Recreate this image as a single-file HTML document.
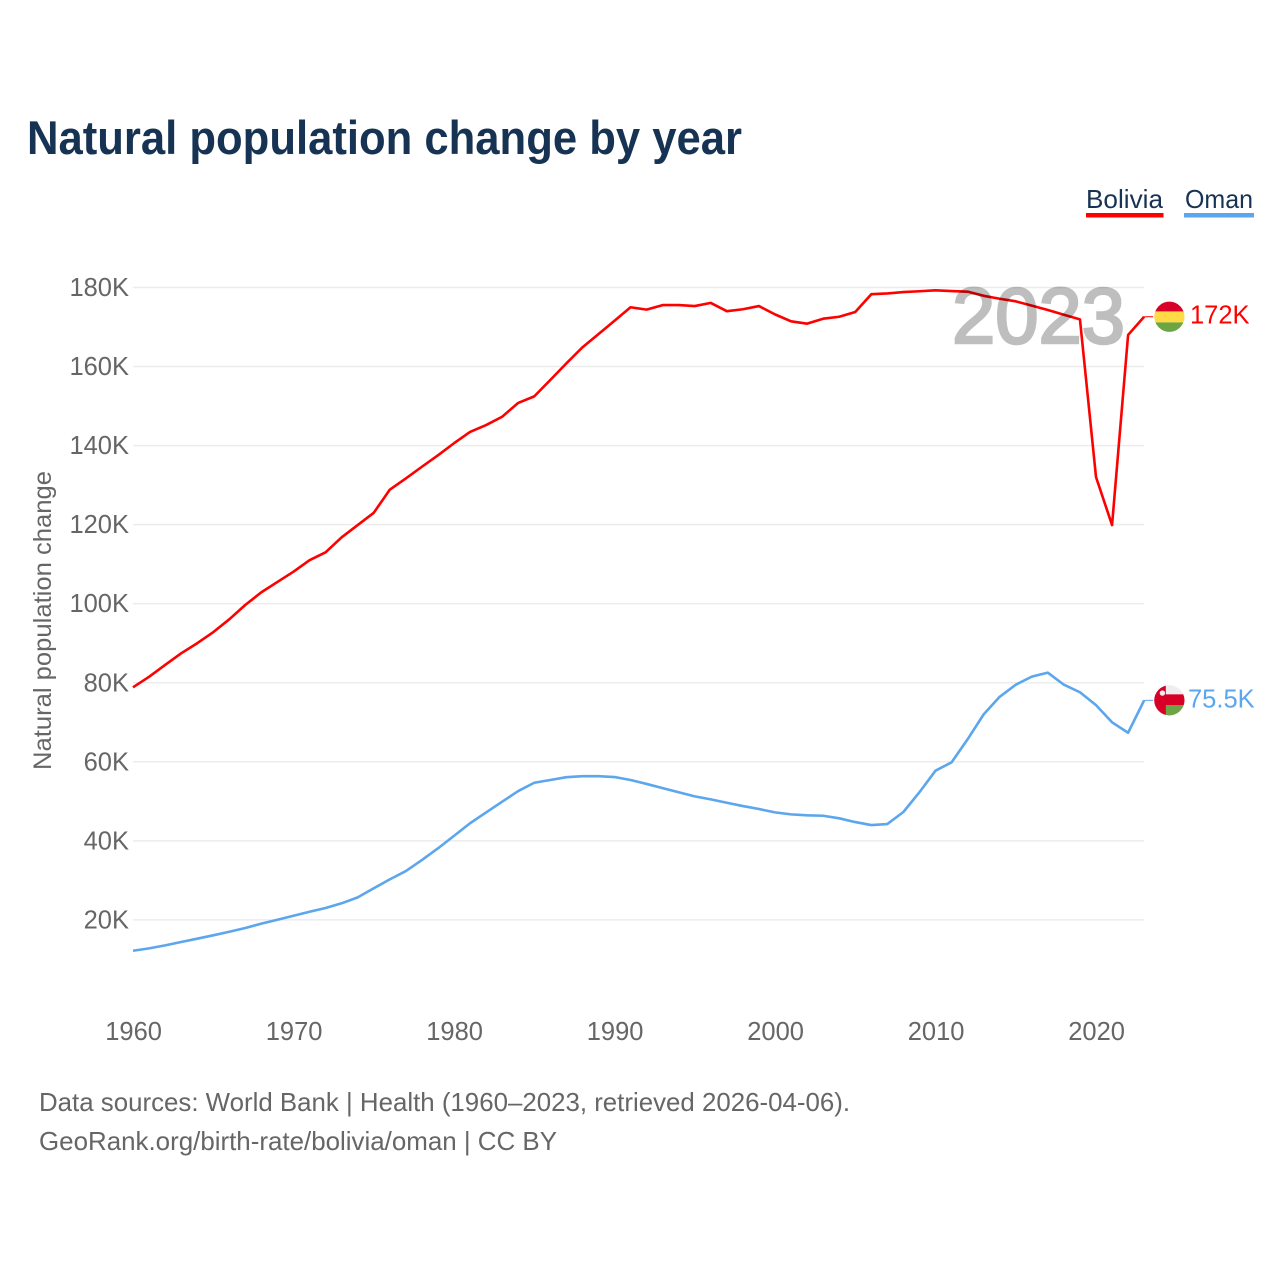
<!DOCTYPE html>
<html lang="en">
<head>
<meta charset="utf-8">
<title>Natural population change by year</title>
<style>
html,body{margin:0;padding:0;background:#fff;}
svg{display:block;font-family:"Liberation Sans",sans-serif;}
</style>
</head>
<body>
<svg id="chart" width="1280" height="1280" viewBox="0 0 1280 1280" xmlns="http://www.w3.org/2000/svg">
  <defs>
    <clipPath id="flag-clip"><circle cx="0" cy="0" r="15.1"></circle></clipPath>
  </defs>
  <rect x="0" y="0" width="1280" height="1280" fill="#ffffff"></rect>
  <text x="27" y="154" font-size="47" font-weight="700" fill="#173353" textLength="715" lengthAdjust="spacingAndGlyphs">Natural population change by year</text>

  <g>
    <g>
      <text x="1086" y="208" font-size="26" fill="#173353" textLength="77" lengthAdjust="spacingAndGlyphs">Bolivia</text>
      <rect x="1086" y="213" width="77.5" height="4.5" fill="#ff0000"></rect>
    </g>
    <g>
      <text x="1185" y="208" font-size="26" fill="#173353" textLength="68" lengthAdjust="spacingAndGlyphs">Oman</text>
      <rect x="1184" y="213" width="70" height="4.5" fill="#5ca6ee"></rect>
    </g>
  </g>

  <text transform="translate(51,770) rotate(-90)" x="0" y="0" font-size="25" fill="#666666" textLength="299" lengthAdjust="spacingAndGlyphs">Natural population change</text>

  <g id="grid"></g>
  <g id="y-ticks"></g>
  <g id="x-ticks"></g>
  <g id="series"></g>

  <text x="952" y="343" font-size="79" font-weight="400" fill="#000000" stroke="#000000" stroke-width="2.6" opacity="0.25" textLength="173" lengthAdjust="spacingAndGlyphs">2023</text>

  <g id="flag-bolivia" clip-path="url(#flag-clip)">
    <rect x="-16" y="-16" width="32" height="10.7" fill="#d80027"></rect>
    <rect x="-16" y="-5.3" width="32" height="11" fill="#ffda44"></rect>
    <rect x="-16" y="5.7" width="32" height="10.3" fill="#6da544"></rect>
  </g>
  <g id="flag-oman" clip-path="url(#flag-clip)">
    <rect x="-16" y="-16" width="32" height="10" fill="#eeeeee"></rect>
    <rect x="-16" y="-6" width="32" height="11" fill="#d80027"></rect>
    <rect x="-4" y="5" width="20" height="11" fill="#6da544"></rect>
    <rect x="-16" y="-16" width="12.4" height="32" fill="#d80027"></rect>
    <circle cx="-7" cy="-7.3" r="2.7" fill="#eeeeee"></circle>
  </g>
  <g id="end-labels"></g>

  <text x="39" y="1111" font-size="26" fill="#666666" textLength="811" lengthAdjust="spacingAndGlyphs">Data sources: World Bank | Health (1960–2023, retrieved 2026-04-06).</text>
  <text x="39" y="1150" font-size="26" fill="#666666" textLength="518" lengthAdjust="spacingAndGlyphs">GeoRank.org/birth-rate/bolivia/oman | CC BY</text>
</svg>
<script>
const firstYear = 1960;
const boliviaValues = [78.85,81.5,84.5,87.45,90.0,92.8,96.05,99.7,102.9,105.5,108.1,111.0,113.0,116.8,119.9,123.0,128.85,131.7,134.65,137.55,140.6,143.45,145.2,147.3,150.8,152.45,156.6,160.8,164.85,168.2,171.6,175.0,174.4,175.55,175.55,175.3,176.1,174.0,174.5,175.3,173.2,171.45,170.85,172.1,172.6,173.8,178.3,178.5,178.85,179.05,179.3,179.1,178.95,177.9,177.15,176.5,175.4,174.3,173.1,171.95,132.05,119.9,168.0,172.6];
const omanValues = [12.2,12.8,13.55,14.4,15.25,16.1,17.0,17.95,19.05,20.05,21.05,22.05,23.0,24.2,25.7,28.0,30.25,32.35,35.15,38.1,41.25,44.45,47.2,49.9,52.6,54.7,55.4,56.1,56.35,56.35,56.15,55.4,54.4,53.35,52.3,51.25,50.5,49.65,48.8,48.05,47.2,46.7,46.45,46.35,45.7,44.75,44.0,44.25,47.3,52.3,57.75,59.85,65.7,72.0,76.45,79.5,81.55,82.55,79.5,77.6,74.35,70.0,67.35,75.55];
const yTickValues = [20,40,60,80,100,120,140,160,180];
const yTickLabels = ["20K","40K","60K","80K","100K","120K","140K","160K","180K"];
const xTickYears = [1960,1970,1980,1990,2000,2010,2020];
const boliviaEndLabel = "172K";
const omanEndLabel = "75.5K";

const NS = "http://www.w3.org/2000/svg";
function xScale(year){ return 133 + (year - 1960) * 16.05; }
function yScale(v){ return 287.5 + (180 - v) * 3.9525; }
function make(tag, parentId){
  const el = document.createElementNS(NS, tag);
  document.getElementById(parentId).appendChild(el);
  return el;
}

yTickValues.forEach(function(v, i){
  const line = make("line", "grid");
  
  
  line.setAttribute("x1", xScale(1960));
  line.setAttribute("x2", 1144);
  line.setAttribute("y1", yScale(v));
  line.setAttribute("y2", yScale(v));
  line.setAttribute("stroke", "#ececec");
  line.setAttribute("stroke-width", "1.5");

  const label = make("text", "y-ticks");
  
  
  label.setAttribute("x", 129);
  label.setAttribute("y", yScale(v) + 8.5);
  label.setAttribute("text-anchor", "end");
  label.setAttribute("font-size", "25.5");
  label.setAttribute("fill", "#666666");
  label.textContent = yTickLabels[i];
});

xTickYears.forEach(function(year){
  const label = make("text", "x-ticks");
  
  
  label.setAttribute("x", xScale(year) + 0.6);
  label.setAttribute("y", 1040);
  label.setAttribute("text-anchor", "middle");
  label.setAttribute("font-size", "25.5");
  label.setAttribute("fill", "#666666");
  label.textContent = String(year);
});

function linePath(values){
  return values.map(function(v, i){
    return (i ? "L" : "M") + xScale(firstYear + i).toFixed(2) + " " + yScale(v).toFixed(2);
  }).join(" ");
}

const boliviaLine = make("path", "series");


boliviaLine.setAttribute("d", linePath(boliviaValues));
boliviaLine.setAttribute("fill", "none");
boliviaLine.setAttribute("stroke", "#ff0000");
boliviaLine.setAttribute("stroke-width", "2.6");
boliviaLine.setAttribute("stroke-linejoin", "round");

const omanLine = make("path", "series");


omanLine.setAttribute("d", linePath(omanValues));
omanLine.setAttribute("fill", "none");
omanLine.setAttribute("stroke", "#5ca6ee");
omanLine.setAttribute("stroke-width", "2.6");
omanLine.setAttribute("stroke-linejoin", "round");

const boliviaEndY = yScale(boliviaValues[boliviaValues.length - 1]);
const omanEndY = yScale(omanValues[omanValues.length - 1]);
const lastX = xScale(firstYear + boliviaValues.length - 1);

const boliviaLeader = make("line", "series");


boliviaLeader.setAttribute("x1", lastX);
boliviaLeader.setAttribute("x2", 1153);
boliviaLeader.setAttribute("y1", boliviaEndY);
boliviaLeader.setAttribute("y2", boliviaEndY);
boliviaLeader.setAttribute("stroke", "#ff0000");
boliviaLeader.setAttribute("stroke-width", "1");

const omanLeader = make("line", "series");


omanLeader.setAttribute("x1", lastX);
omanLeader.setAttribute("x2", 1153);
omanLeader.setAttribute("y1", omanEndY);
omanLeader.setAttribute("y2", omanEndY);
omanLeader.setAttribute("stroke", "#5ca6ee");
omanLeader.setAttribute("stroke-width", "1");

document.getElementById("flag-bolivia").setAttribute("transform", "translate(1169.4," + boliviaEndY.toFixed(2) + ")");
document.getElementById("flag-oman").setAttribute("transform", "translate(1169.4," + omanEndY.toFixed(2) + ")");

const boliviaLabel = make("text", "end-labels");


boliviaLabel.setAttribute("x", 1190);
boliviaLabel.setAttribute("y", boliviaEndY + 7);
boliviaLabel.setAttribute("font-size", "25.5");
boliviaLabel.setAttribute("fill", "#ff0000");
boliviaLabel.textContent = boliviaEndLabel;

const omanLabel = make("text", "end-labels");


omanLabel.setAttribute("x", 1188);
omanLabel.setAttribute("y", omanEndY + 7);
omanLabel.setAttribute("font-size", "25.5");
omanLabel.setAttribute("fill", "#5ca6ee");
omanLabel.textContent = omanEndLabel;
</script>
</body>
</html>
